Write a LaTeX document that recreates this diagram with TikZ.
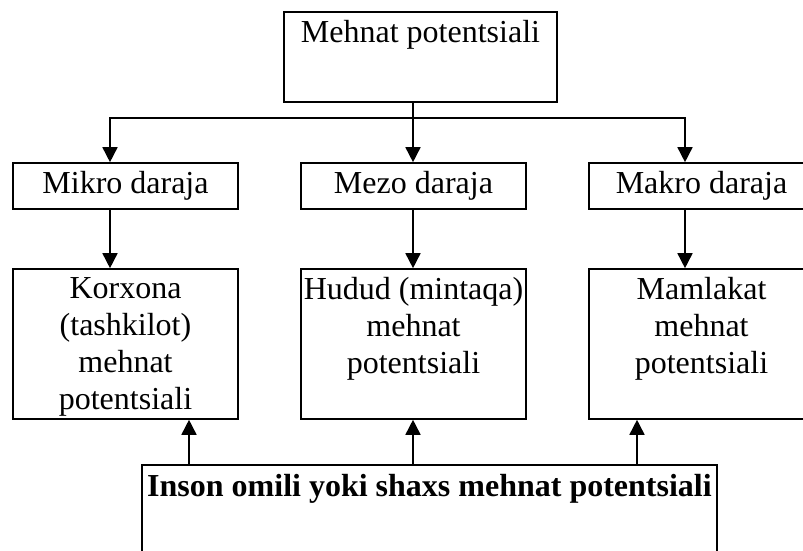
\documentclass[tikz,border=0pt]{standalone}
\usepackage{fontspec}
\setmainfont{Liberation Serif}
\usetikzlibrary{arrows.meta,positioning,calc}

\begin{document}
\begin{tikzpicture}[x=1pt,y=1pt,
  every node/.style={font=\fontsize{32}{37}\selectfont},
  box/.style={draw,line width=1.6pt,rectangle,inner sep=0pt,minimum width=225pt},
  txt/.style={inner sep=0pt,align=center},
  arr/.style={line width=1.6pt,-{Triangle[width=15pt,length=15pt]}}
]
\useasboundingbox (0,0) rectangle (803,551);

% the top box
\node[box,minimum width=273pt,minimum height=90pt] (mp) at (420.5,494) {};
\node[txt,anchor=base] (mpT) at ($(mp.north)+(0,-31)$) {Mehnat potentsiali};

% the three levels
\node[box,minimum height=46pt] (mikro) at (125.5,365) {Mikro daraja};
\node[box,minimum height=46pt] (mezo) at (413.5,365) {Mezo daraja};
\node[box,minimum height=46pt] (makro) at (701.5,365) {Makro daraja};

% the three potentials
\node[box,minimum height=150pt] (korx) at (125.5,207) {};
\node[box,minimum height=150pt] (hudud) at (413.5,207) {};
\node[box,minimum height=150pt] (mamlakat) at (701.5,207) {};
\node[txt,below=9pt of korx.north] (korxT) {Korxona\\(tashkilot)\\mehnat\\potentsiali};
\node[txt,below=9pt of hudud.north] (hududT) {Hudud (mintaqa)\\mehnat\\potentsiali};
\node[txt,below=9pt of mamlakat.north] (mamlakatT) {Mamlakat\\mehnat\\potentsiali};

% the person
\node[box,minimum width=575pt,minimum height=110pt] (inson) at (429.5,31) {};
\node[txt,anchor=base,font=\bfseries\fontsize{32}{37}\selectfont] (insonT)
  at ($(inson.north)+(0,-32)$) {Inson omili yoki shaxs mehnat potentsiali};

% columns of the arrows
\coordinate (c1) at (110,0);
\coordinate (c2) at (413,0);
\coordinate (c3) at (685,0);
\coordinate (u1) at (189,0);
\coordinate (u3) at (637,0);
\coordinate (bus) at (413,433);

% the edges
\draw[arr] (mp.south -| c2) -- (mezo.north -| c2);
\draw[arr] (bus) -| (mikro.north -| c1);
\draw[arr] (bus) -| (makro.north -| c3);
\draw[arr] (mikro.south -| c1) -- (korx.north -| c1);
\draw[arr] (mezo.south -| c2) -- (hudud.north -| c2);
\draw[arr] (makro.south -| c3) -- (mamlakat.north -| c3);
\draw[arr] (inson.north -| u1) -- (korx.south -| u1);
\draw[arr] (inson.north -| c2) -- (hudud.south -| c2);
\draw[arr] (inson.north -| u3) -- (mamlakat.south -| u3);

\end{tikzpicture}
\end{document}
